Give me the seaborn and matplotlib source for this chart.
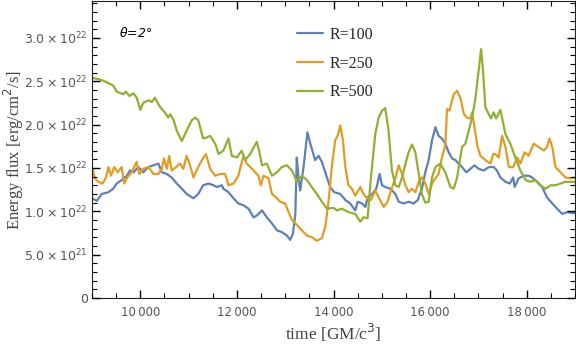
import numpy as np
import pandas as pd
import matplotlib
matplotlib.use("Agg")
import matplotlib.pyplot as plt
import seaborn as sns

# ---------------- data (flux in units of 1e22 erg/cm^2/s) ----------------
t_100 = [9000, 9100, 9200, 9340, 9440, 9510, 9615, 9720, 9785, 9860, 9960, 10060, 10170, 10270, 10375,
         10445, 10550, 10650, 10755, 10860, 10960, 11100, 11200, 11300, 11410, 11515, 11585, 11690, 11720,
         11825, 11930, 12030, 12135, 12240, 12345, 12410, 12520, 12620, 12725, 12830, 12930, 13035, 13105,
         13160, 13210, 13240, 13275, 13310, 13380, 13460, 13520, 13620, 13690, 13760, 13865, 13930, 14015,
         14140, 14245, 14345, 14450, 14500, 14590, 14660, 14705, 14800, 14885, 14955, 15005, 15070, 15175,
         15280, 15350, 15450, 15555, 15660, 15745, 15830, 15900, 15970, 16040, 16110, 16175, 16245, 16315,
         16385, 16455, 16525, 16590, 16660, 16750, 16835, 16920, 17005, 17110, 17215, 17315, 17385, 17455,
         17560, 17650, 17720, 17750, 17835, 17940, 18040, 18110, 18215, 18320, 18420, 18530, 18630, 18735,
         18840, 18940, 19000]
f_100 = [1.15, 1.12, 1.20, 1.22, 1.26, 1.32, 1.36, 1.41, 1.47, 1.45, 1.51, 1.45, 1.51, 1.53, 1.55,
         1.45, 1.43, 1.39, 1.32, 1.26, 1.20, 1.15, 1.20, 1.30, 1.32, 1.30, 1.28, 1.30, 1.26,
         1.22, 1.15, 1.09, 1.07, 1.03, 0.93, 0.95, 1.01, 0.93, 0.86, 0.78, 0.76, 0.72, 0.67,
         0.74, 0.97, 1.62, 1.39, 1.24, 1.51, 1.91, 1.78, 1.59, 1.64, 1.57, 1.39, 1.28, 1.22,
         1.20, 1.13, 1.09, 1.01, 1.11, 1.09, 1.05, 1.16, 1.20, 1.26, 1.43, 1.30, 1.28, 1.26,
         1.20, 1.11, 1.09, 1.11, 1.09, 1.13, 1.26, 1.45, 1.59, 1.82, 1.97, 1.87, 1.84, 1.78,
         1.68, 1.61, 1.59, 1.55, 1.51, 1.45, 1.49, 1.53, 1.49, 1.47, 1.51, 1.51, 1.47, 1.39,
         1.34, 1.32, 1.39, 1.28, 1.38, 1.41, 1.41, 1.39, 1.34, 1.28, 1.16, 1.09, 1.03, 0.97,
         0.99, 0.98, 0.98]

t_250 = [9000, 9060, 9130, 9220, 9290, 9340, 9395, 9460, 9530, 9615, 9665, 9730, 9820, 9925, 9980,
         10060, 10170, 10270, 10375, 10445, 10490, 10550, 10600, 10650, 10740, 10825, 10890, 10960, 11030,
         11100, 11200, 11295, 11360, 11445, 11550, 11650, 11755, 11825, 11930, 12030, 12135, 12205, 12310,
         12380, 12445, 12495, 12550, 12655, 12725, 12830, 12895, 13000, 13070, 13140, 13245, 13345, 13450,
         13555, 13655, 13760, 13830, 13900, 13965, 14035, 14085, 14140, 14195, 14245, 14310, 14380, 14450,
         14555, 14620, 14695, 14775, 14865, 14935, 15040, 15120, 15190, 15280, 15350, 15420, 15490, 15555,
         15625, 15695, 15765, 15830, 15900, 15970, 16040, 16110, 16175, 16245, 16315, 16350, 16400, 16455,
         16490, 16560, 16630, 16700, 16765, 16835, 16870, 16920, 16975, 17040, 17145, 17250, 17305, 17350,
         17420, 17490, 17560, 17630, 17720, 17805, 17870, 17955, 18040, 18145, 18250, 18355, 18420, 18470,
         18530, 18595, 18700, 18800, 18905, 19000]
f_250 = [1.51, 1.38, 1.34, 1.32, 1.39, 1.51, 1.41, 1.51, 1.45, 1.51, 1.32, 1.39, 1.45, 1.57, 1.43,
         1.49, 1.51, 1.43, 1.43, 1.49, 1.61, 1.49, 1.64, 1.47, 1.51, 1.55, 1.49, 1.64, 1.53,
         1.39, 1.51, 1.61, 1.66, 1.49, 1.41, 1.43, 1.43, 1.30, 1.32, 1.41, 1.64, 1.55, 1.49,
         1.45, 1.41, 1.30, 1.41, 1.38, 1.20, 1.15, 1.11, 1.09, 0.99, 0.90, 0.84, 0.78, 0.72,
         0.70, 0.66, 0.69, 0.82, 1.13, 1.51, 1.82, 1.87, 1.99, 1.82, 1.51, 1.30, 1.26, 1.18,
         1.28, 1.20, 1.15, 1.13, 1.24, 1.16, 1.05, 1.11, 1.24, 1.38, 1.53, 1.43, 1.30, 1.22,
         1.26, 1.22, 1.34, 1.39, 1.32, 1.20, 1.32, 1.38, 1.43, 1.62, 1.76, 2.18, 2.16, 2.28,
         2.35, 2.39, 2.30, 2.12, 2.08, 2.07, 2.14, 1.97, 1.76, 1.64, 1.59, 1.55, 1.66, 1.66,
         1.62, 1.87, 1.74, 1.51, 1.51, 1.62, 1.55, 1.68, 1.64, 1.78, 1.74, 1.70, 1.74, 1.84,
         1.74, 1.51, 1.45, 1.39, 1.38, 1.39]

t_500 = [9000, 9166, 9300, 9440, 9510, 9650, 9700, 9775, 9860, 9925, 10000, 10060, 10170, 10240, 10300,
         10370, 10440, 10510, 10580, 10620, 10690, 10755, 10860, 10960, 11066, 11135, 11200, 11300, 11370,
         11445, 11550, 11620, 11720, 11825, 11895, 12000, 12100, 12170, 12275, 12410, 12460, 12520, 12620,
         12725, 12830, 12930, 13035, 13140, 13240, 13345, 13450, 13550, 13655, 13760, 13865, 14000, 14070,
         14175, 14310, 14450, 14555, 14620, 14705, 14775, 14865, 14935, 15005, 15070, 15140, 15210, 15280,
         15350, 15420, 15490, 15555, 15625, 15695, 15765, 15830, 15900, 15970, 16040, 16110, 16210, 16315,
         16420, 16490, 16560, 16660, 16730, 16800, 16870, 16940, 17005, 17055, 17090, 17145, 17215, 17260,
         17315, 17370, 17455, 17560, 17660, 17765, 17870, 17975, 18080, 18180, 18285, 18390, 18490, 18595,
         18700, 18800, 18905, 19000]
f_500 = [2.54, 2.52, 2.49, 2.45, 2.38, 2.35, 2.38, 2.33, 2.36, 2.31, 2.17, 2.25, 2.28, 2.26, 2.31,
         2.24, 2.18, 2.14, 2.08, 2.12, 2.05, 1.93, 1.81, 1.93, 2.05, 2.08, 2.05, 1.84, 1.85,
         1.87, 1.78, 1.66, 1.70, 1.84, 1.64, 1.62, 1.70, 1.59, 1.66, 1.80, 1.70, 1.53, 1.55,
         1.41, 1.45, 1.51, 1.53, 1.47, 1.34, 1.41, 1.36, 1.28, 1.20, 1.11, 1.03, 1.04, 1.01,
         1.03, 0.99, 0.97, 0.88, 0.93, 0.92, 1.39, 1.89, 2.08, 2.16, 2.19, 1.93, 1.47, 1.30,
         1.28, 1.39, 1.55, 1.68, 1.77, 1.68, 1.43, 1.20, 1.10, 1.11, 1.39, 1.51, 1.55, 1.45,
         1.28, 1.26, 1.39, 1.74, 1.78, 1.93, 2.08, 2.31, 2.62, 2.87, 2.66, 2.20, 2.12, 2.07,
         2.14, 2.07, 2.17, 1.89, 1.78, 1.62, 1.47, 1.36, 1.34, 1.36, 1.30, 1.26, 1.30, 1.30,
         1.32, 1.34, 1.34, 1.34]

series_labels = ["R=100", "R=250", "R=500"]
series_colors = ["#5E81B5", "#E19C24", "#8FB032"]

x_ticks = [10000, 12000, 14000, 16000, 18000]
x_tick_labels = ["10\u2009000", "12\u2009000", "14\u2009000", "16\u2009000", "18\u2009000"]
y_ticks = [0, 0.5e22, 1.0e22, 1.5e22, 2.0e22, 2.5e22, 3.0e22]
y_tick_labels = ["0", r"$5.0\times10^{21}$", r"$1.0\times10^{22}$", r"$1.5\times10^{22}$",
                 r"$2.0\times10^{22}$", r"$2.5\times10^{22}$", r"$3.0\times10^{22}$"]

frames = []
for lab, tt, ff in zip(series_labels, [t_100, t_250, t_500], [f_100, f_250, f_500]):
    frames.append(pd.DataFrame({"time": tt, "flux": np.array(ff) * 1e22, "series": lab}))
df = pd.concat(frames, ignore_index=True)

# ---------------- plot ----------------
sns.set_theme(style="ticks", rc={
    "xtick.direction": "in", "ytick.direction": "in",
    "xtick.top": True, "ytick.right": True,
    "xtick.bottom": True, "ytick.left": True,
    "axes.axisbelow": False,
    "xtick.major.size": 6, "ytick.major.size": 6,
    "xtick.minor.size": 3.5, "ytick.minor.size": 3.5,
    "xtick.major.width": 1.0, "ytick.major.width": 1.0,
    "xtick.minor.width": 0.8, "ytick.minor.width": 0.8,
    "xtick.color": "black", "ytick.color": "black",
})
plt.rcParams["mathtext.fontset"] = "dejavusans"

fig = plt.figure(figsize=(5.76, 3.5), dpi=100)
ax = fig.add_axes([92 / 576, 1 - 298 / 350, (575 - 92) / 576, 297 / 350])

sns.lineplot(data=df, x="time", y="flux", hue="series", hue_order=series_labels,
             palette=series_colors, estimator=None, sort=False, linewidth=1.6, ax=ax)

ax.set_xlim(9000, 19000)
ax.set_ylim(0, 3.425e22)

tick_color = "#555555"
ax.set_xticks(x_ticks)
ax.set_xticklabels(x_tick_labels)
ax.set_xticks(np.arange(9000, 19001, 500), minor=True)
ax.set_yticks(y_ticks)
ax.set_yticklabels(y_tick_labels)
ax.set_yticks(np.arange(0, 3.45e22, 1e21), minor=True)

ax.tick_params(which="both", direction="in", bottom=True, left=True, top=True, right=True,
               labeltop=False, labelright=False, labelcolor=tick_color)
ax.tick_params(axis="x", which="major", pad=6, labelsize=8.5)
ax.tick_params(axis="y", which="major", pad=3, labelsize=9)

for s in ax.spines.values():
    s.set_visible(True)
    s.set_color("#222222")
    s.set_linewidth(0.8)

serif = ["Liberation Serif", "DejaVu Serif"]
ax.set_xlabel("time [GM/c$^3$]", fontsize=12.5, family=serif, color="#444444", labelpad=2)
ax.set_ylabel("Energy flux [erg/cm$^2$/s]", fontsize=12, family=serif, color="#444444")
ax.yaxis.label.set_rotation_mode("default")
ax.yaxis.label.set_va("center")
ax.yaxis.label.set_ha("center")
ax.yaxis.set_label_coords(-(92 - 14) / 483, 0.5)

ax.text(0.056, 0.892, r"$\theta$=2°", transform=ax.transAxes, fontsize=9, style="italic",
        color="black", ha="left", va="center")

handles, labels = ax.get_legend_handles_labels()
leg = ax.legend(handles, labels, loc="upper left", bbox_to_anchor=(0.405, 0.945), frameon=False,
                prop={"family": serif, "size": 11.5}, handlelength=1.6, handletextpad=0.4,
                labelspacing=0.8, borderaxespad=0.2)
for h in leg.get_lines():
    h.set_linewidth(1.6)

fig.savefig("out.png", dpi=100)
